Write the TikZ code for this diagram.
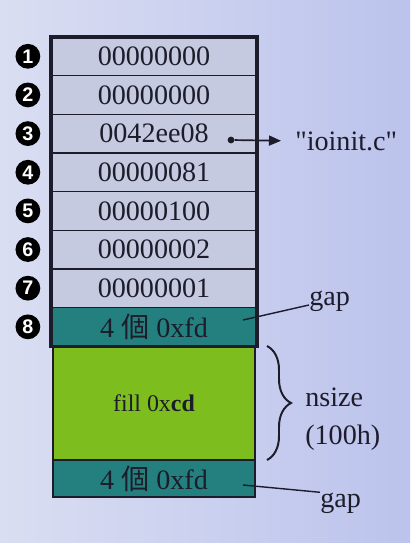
\documentclass[tikz,border=0pt]{standalone}
\usepackage{fontspec}
\setmainfont{Liberation Serif}
\setsansfont{Liberation Sans}
\newfontfamily\plainserif{Liberation Serif}
\newfontfamily\cjkfont{Noto Sans CJK TC}
\usetikzlibrary{positioning,arrows.meta,decorations.pathreplacing}
\definecolor{ink}{HTML}{1C1C2A}
\definecolor{rowgray}{HTML}{C6CAE0}
\definecolor{tealbox}{HTML}{23807E}
\definecolor{greenbox}{HTML}{7DBE1E}
\definecolor{bgleft}{HTML}{DADEF2}
\definecolor{bgright}{HTML}{BCC3EC}

\begin{document}
\begin{tikzpicture}[x=0.025cm, y=-0.025cm, font=\fontsize{20}{27}\selectfont,
    cell/.style={draw=ink, line width=1pt, fill=rowgray, text=ink,
        minimum width=5.15cm, minimum height=0.966cm, inner sep=0pt, outer sep=0pt},
    gapcell/.style={cell, fill=tealbox},
    fillcell/.style={cell, fill=greenbox, minimum width=5.05cm, minimum height=2.825cm,
        font=\fontsize{17}{17}\selectfont},
    num/.style={circle, fill=black, text=white, minimum size=0.62cm, inner sep=0pt,
        font=\sffamily\bfseries\fontsize{14}{14}\selectfont},
    lbl/.style={inner sep=0pt, text=ink}]
        \shade[left color=bgleft, right color=bgright] (0,0) rectangle (410,543);
        \useasboundingbox (0,0) rectangle (410,543);
        \node[cell] (r1) at (154,56.3) {00000000};
        \node[cell, below=0pt of r1] (r2) {00000000};
        \node[cell, below=0pt of r2] (r3) {0042ee08};
        \node[cell, below=0pt of r3] (r4) {00000081};
        \node[cell, below=0pt of r4] (r5) {00000100};
        \node[cell, below=0pt of r5] (r6) {00000002};
        \node[cell, below=0pt of r6] (r7) {00000001};
        \node[gapcell, below=0pt of r7] (r8) {4 {\cjkfont 個} 0xfd};
        \node[fillcell, below=0.5pt of r8] (body) {fill 0x\textbf{cd}};
        \node[gapcell, minimum width=5.05cm, minimum height=0.925cm, below=0pt of body] (r9) {4 {\cjkfont 個} 0xfd};
        \draw[ink, line width=2.2pt] (r1.north west) rectangle (r8.south east);
        \node[num, left=0.26cm of r1] (n1) {1};
        \node[num, left=0.26cm of r2] (n2) {2};
        \node[num, left=0.26cm of r3] (n3) {3};
        \node[num, left=0.26cm of r4] (n4) {4};
        \node[num, left=0.26cm of r5] (n5) {5};
        \node[num, left=0.26cm of r6] (n6) {6};
        \node[num, left=0.26cm of r7] (n7) {7};
        \node[num, left=0.26cm of r8] (n8) {8};
        \node[circle, fill=ink, inner sep=0pt, minimum size=0.17cm] (p3) at (231,140) {};
        \node[lbl, anchor=west] (src) at (295,141) {\plainserif "ioinit.c"};
        \draw[ink, line width=1.2pt, shorten >=0.35cm, -{Triangle[length=0.3cm, width=0.25cm]}] (p3) -- (src.west);
        \coordinate (g1) at (243,320);
        \node[lbl, anchor=base west] (gap1) at (309,305) {gap};
        \draw[ink, line width=1pt] (g1) -- (gap1.base west);
        \coordinate (g2) at (243,485);
        \node[lbl, anchor=base west] (gap2) at (320,507) {gap};
        \draw[ink, line width=1pt] (g2) -- (gap2.north west);
        \draw[ink, line width=1.4pt, decorate, decoration={brace, amplitude=0.6cm}] (267,346) -- (267,460);
        \node[lbl, anchor=west, align=left] (nsz) at (305,419) {nsize\\(100h)};
        \end{tikzpicture}
\end{document}
